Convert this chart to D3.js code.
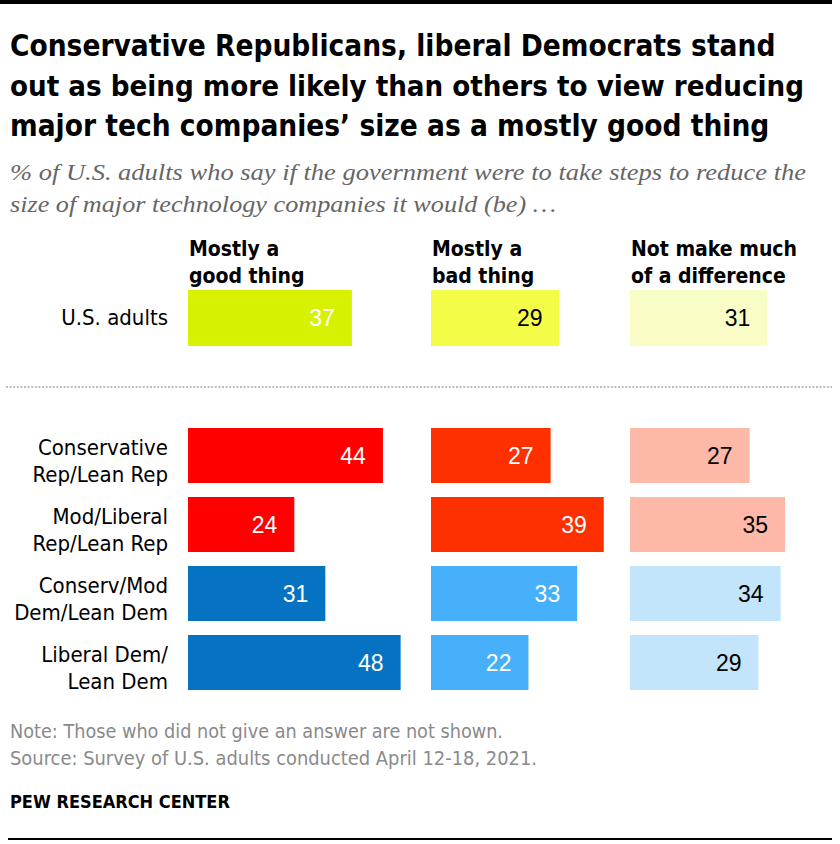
<!DOCTYPE html>
<html><head><meta charset="utf-8">
<script src="https://cdn.jsdelivr.net/npm/d3@7"></script>
<style>
html,body{margin:0;padding:0;background:#fff;}
svg{display:block;}
</style></head>
<body>
<svg id="chart" width="840" height="844"></svg>
<script>
// ---- data ----
const columns = ["Mostly a|good thing", "Mostly a|bad thing", "Not make much|of a difference"];
const totalLabel = ["U.S. adults"];
const totalValues = [37, 29, 31];
const groups = ["Conservative|Rep/Lean Rep", "Mod/Liberal|Rep/Lean Rep", "Conserv/Mod|Dem/Lean Dem", "Liberal Dem/|Lean Dem"];
const goodValues = [44, 24, 31, 48];
const badValues = [27, 39, 33, 22];
const neutralValues = [27, 35, 34, 29];
const titleLines = ["Conservative Republicans, liberal Democrats stand",
  "out as being more likely than others to view reducing",
  "major tech companies\u2019 size as a mostly good thing"];
const subtitleLines = ["% of U.S. adults who say if the government were to take steps to reduce the",
  "size of major technology companies it would (be) \u2026"];
const noteLines = ["Note: Those who did not give an answer are not shown.",
  "Source: Survey of U.S. adults conducted April 12-18, 2021."];
const credit = "PEW RESEARCH CENTER";

// ---- styles ----
const condensed = "'Liberation Sans Narrow','DejaVu Sans Condensed','Roboto Condensed',sans-serif";
const totalColors = ["#d7f200", "#f3fd47", "#f9fdc5"];
const totalText = ["#fff", "#000", "#000"];
const repColors = ["#ff0000", "#ff3000", "#fdb8a8"];
const demColors = ["#0573c2", "#47b0fa", "#c2e5fc"];
const groupText = ["#fff", "#fff", "#000"];

const svg = d3.select("#chart");

svg.append("rect").attr("x", 0).attr("y", 0).attr("width", 832).attr("height", 4).attr("fill", "#000");
svg.append("rect").attr("x", 8).attr("y", 838).attr("width", 824).attr("height", 2).attr("fill", "#000");

// shrink font so the natural width is close to the target, then fine-tune with textLength
function fitLine(sel, w) {
  let len = sel.node().getComputedTextLength();
  if (len > w) {
    const fs = parseFloat(sel.attr("font-size"));
    sel.attr("font-size", Math.floor(fs * w / len * 10) / 10);
    len = sel.node().getComputedTextLength();
  }
  if (len > 0 && Math.abs(len - w) > 1) sel.attr("textLength", w).attr("lengthAdjust", "spacingAndGlyphs");
}

const titleW = [766, 794, 760];
titleLines.forEach((t, i) => {
  const el = svg.append("text").attr("x", 10).attr("y", 56 + i * 40)
    .attr("font-family", condensed).attr("font-weight", "bold").attr("font-size", 31)
    .attr("fill", "#000").text(t);
  fitLine(el, titleW[i]);
});
const subW = [796, 546];
subtitleLines.forEach((t, i) => {
  const el = svg.append("text").attr("x", 10).attr("y", 180 + i * 32)
    .attr("font-family", "'Liberation Serif','DejaVu Serif',serif").attr("font-style", "italic")
    .attr("font-size", 24).attr("fill", "#666").text(t);
  fitLine(el, subW[i]);
});

// scales
const colX = [188, 431, 630];
const x = d3.scaleLinear().domain([0, 100]).range([0, 443]);
const y = d3.scaleBand().domain(groups).range([421, 697]).paddingInner(14 / 69).paddingOuter(7 / 69);
const yTot = d3.scaleBand().domain(totalLabel).range([290, 346]);

// column headers
columns.forEach((c, i) => {
  c.split("|").forEach((line, j) => {
    svg.append("text").attr("x", colX[i] + 1).attr("y", 256 + j * 27)
      .attr("font-family", condensed).attr("font-weight", "bold").attr("font-size", 21)
      .attr("fill", "#000").text(line);
  });
});

// row labels
const labelX = 168;
svg.append("text").attr("x", labelX).attr("y", yTot(totalLabel[0]) + yTot.bandwidth() / 2 + 7)
  .attr("text-anchor", "end").attr("font-family", condensed).attr("font-size", 22).attr("fill", "#000")
  .text(totalLabel[0]);
groups.forEach(g => {
  const cy = y(g) + y.bandwidth() / 2;
  g.split("|").forEach((line, j) => {
    svg.append("text").attr("x", labelX).attr("y", cy - 1 + j * 27)
      .attr("text-anchor", "end").attr("font-family", condensed).attr("font-size", 22).attr("fill", "#000")
      .text(line);
  });
});

// dotted separator
svg.append("line").attr("x1", 6).attr("x2", 832).attr("y1", 387).attr("y2", 387)
  .attr("stroke", "#bdbdbd").attr("stroke-width", 2).attr("stroke-dasharray", "2,1.6");

// total bars
totalValues.forEach((v, i) => {
  const gx = colX[i];
  svg.append("rect").attr("x", gx).attr("y", yTot(totalLabel[0])).attr("width", x(v)).attr("height", yTot.bandwidth())
    .attr("fill", totalColors[i]);
  svg.append("text").attr("x", gx + x(v) - 17).attr("y", yTot(totalLabel[0]) + yTot.bandwidth() / 2)
    .attr("dy", "0.36em").attr("text-anchor", "end").attr("font-family", "'Liberation Sans',Arial,sans-serif")
    .attr("font-size", 23).attr("fill", totalText[i]).text(v);
});

// group bars
const series = [goodValues, badValues, neutralValues];
series.forEach((vals, i) => {
  const gx = colX[i];
  vals.forEach((v, k) => {
    const g = groups[k];
    const fill = k < 2 ? repColors[i] : demColors[i];
    svg.append("rect").attr("x", gx).attr("y", y(g)).attr("width", x(v)).attr("height", y.bandwidth()).attr("fill", fill);
    svg.append("text").attr("x", gx + x(v) - 17).attr("y", y(g) + y.bandwidth() / 2)
      .attr("dy", "0.36em").attr("text-anchor", "end").attr("font-family", "'Liberation Sans',Arial,sans-serif")
      .attr("font-size", 23).attr("fill", groupText[i]).text(v);
  });
});

// notes
const noteW = [493, 527];
noteLines.forEach((t, i) => {
  const el = svg.append("text").attr("x", 10).attr("y", 738 + i * 27)
    .attr("font-family", condensed).attr("font-size", 19).attr("fill", "#8a8a8a").text(t);
  fitLine(el, noteW[i]);
});
svg.append("text").attr("x", 10).attr("y", 808)
  .attr("font-family", condensed).attr("font-weight", "bold").attr("font-size", 18).attr("fill", "#000").text(credit);
</script>
</body></html>
